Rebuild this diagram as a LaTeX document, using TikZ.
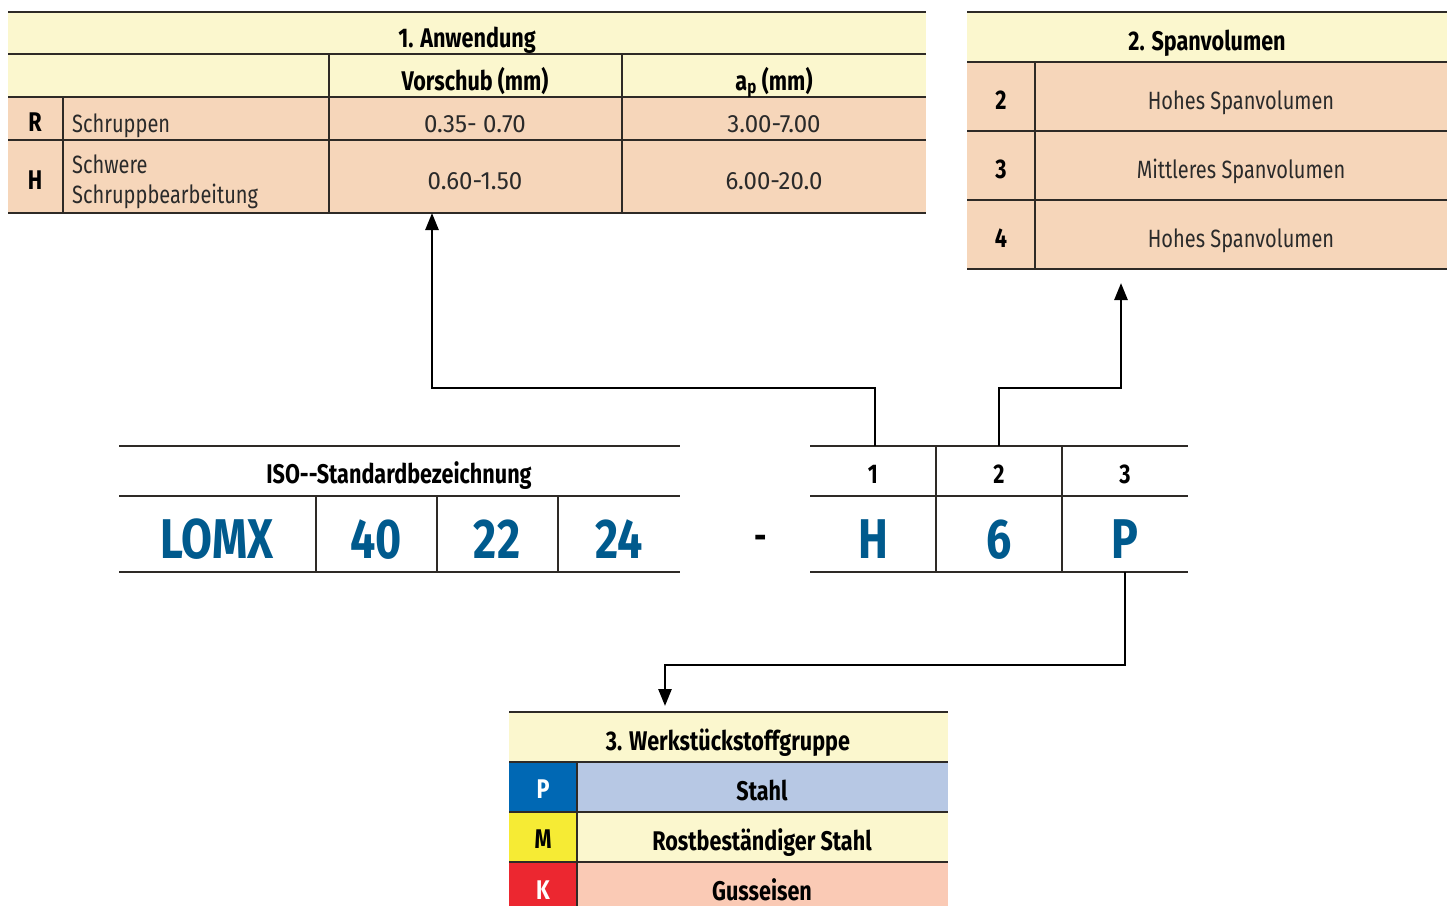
\documentclass[tikz,border=0pt]{standalone}
\usepackage{fontspec}
\setmainfont{Fira Sans}[FakeStretch=0.8]
\newfontfamily\numfont{Fira Sans}[FakeStretch=0.96]
\usetikzlibrary{arrows.meta}
\definecolor{hdr}{HTML}{FBF7CE}
\definecolor{peach}{HTML}{F6D6BA}
\definecolor{lnc}{HTML}{2E2A26}
\definecolor{txtc}{HTML}{2A2A2A}
\definecolor{bluetxt}{HTML}{005A8D}
\definecolor{pblue}{HTML}{0068B4}
\definecolor{pbg}{HTML}{B7C8E4}
\definecolor{myel}{HTML}{F6EB34}
\definecolor{kred}{HTML}{EC2730}
\definecolor{kbg}{HTML}{FACAB5}
\tikzset{
  tl/.style={line width=1.4pt, draw=lnc},
  reg/.style={anchor=base, inner sep=0pt, text=txtc, font=\fontsize{25}{29}\selectfont},
  num/.style={anchor=base, inner sep=0pt, text=txtc, font=\numfont\fontsize{25}{29}\selectfont},
  regw/.style={anchor=base west, inner sep=0pt, text=txtc, font=\fontsize{25}{29}\selectfont},
  bld/.style={anchor=base, inner sep=0pt, text=black, font=\fontsize{27}{31}\selectfont\bfseries},
  big/.style={anchor=base, inner sep=0pt, text=bluetxt, font=\fontsize{56}{62}\selectfont\bfseries},
  cellbox/.style={inner sep=0pt, minimum width=126pt, minimum height=50pt},
  valbox/.style={inner sep=0pt, minimum width=126pt, minimum height=76pt},
  conn/.style={line width=2.6pt, draw=black, -{Triangle[width=13pt,length=17pt]}}
}
\begin{document}
\begin{tikzpicture}[x=1pt,y=-1pt]
\useasboundingbox (0,0) rectangle (1454,906);
% ---------- Table 1 ----------
\fill[hdr] (8,12) rectangle (926,97);
\fill[peach] (8,97) rectangle (926,213);
\foreach \yy in {12,54,97,140,213} \draw[tl] (8,\yy) -- (926,\yy);
\draw[tl] (63,97) -- (63,213);
\draw[tl] (329,54) -- (329,213);
\draw[tl] (622,54) -- (622,213);
\node[bld] (t1title) at (467,47) {1. Anwendung};
\node[bld] (t1vor) at (475,90) {Vorschub (mm)};
\node[bld] (t1ap) at (774,90) {a\textsubscript{p} (mm)};
\node[bld] (t1r) at (35,131) {R};
\node[regw] (t1rd) at (72,132) {Schruppen};
\node[num] (t1rv) at (475,132) {0.35- 0.70};
\node[num] (t1ra) at (774,132) {3.00-7.00};
\node[bld] (t1h) at (35,189) {H};
\node[regw] (t1hd1) at (72,173) {Schwere};
\node[regw] (t1hd2) at (72,203) {Schruppbearbeitung};
\node[num] (t1hv) at (475,189) {0.60-1.50};
\node[num] (t1ha) at (774,189) {6.00-20.0};
\coordinate (t1in) at (432,213);
% ---------- Table 2 ----------
\fill[hdr] (967,12) rectangle (1447,62);
\fill[peach] (967,62) rectangle (1447,269);
\foreach \yy in {12,62,131,200,269} \draw[tl] (967,\yy) -- (1447,\yy);
\draw[tl] (1035,62) -- (1035,269);
\node[bld] (t2title) at (1207,50) {2. Spanvolumen};
\node[bld] (t2a) at (1001,109) {2};
\node[reg] (t2ad) at (1241,109) {Hohes Spanvolumen};
\node[bld] (t2b) at (1001,178) {3};
\node[reg] (t2bd) at (1241,178) {Mittleres Spanvolumen};
\node[bld] (t2c) at (1001,247) {4};
\node[reg] (t2cd) at (1241,247) {Hohes Spanvolumen};
\coordinate (t2in) at (1121,283);
% ---------- ISO designation ----------
\foreach \yy in {446,496,572} \draw[tl] (119,\yy) -- (680,\yy);
\foreach \xx in {316,437,558} \draw[tl] (\xx,496) -- (\xx,572);
\node[bld] (isotitle) at (399,483) {ISO-{}-Standardbezeichnung};
\node[big] (lomx) at (217,558) {LOMX};
\node[big] (n40) at (376,558) {40};
\node[big] (n22) at (497,558) {22};
\node[big] (n24) at (619,558) {24};
\node[anchor=base, inner sep=0pt, font=\fontsize{38}{42}\selectfont\bfseries] (dash) at (761,549) {-};
% ---------- Code table ----------
\foreach \yy in {446,496,572} \draw[tl] (810,\yy) -- (1188,\yy);
\foreach \xx in {936,1062} \draw[tl] (\xx,446) -- (\xx,572);
\node[cellbox] (c1) at (875,471) {};
\node[cellbox] (c2) at (999,471) {};
\node[cellbox] (c3) at (1125,471) {};
\node[valbox] (v3) at (1125,534) {};
\node[bld] (l1) at (873,483) {1};
\node[bld] (l2) at (999,483) {2};
\node[bld] (l3) at (1125,483) {3};
\node[big] (vH) at (873,558) {H};
\node[big] (v6) at (999,558) {6};
\node[big] (vP) at (1125,558) {P};
% ---------- Table 3 ----------
\fill[hdr] (509,712) rectangle (948,762);
\fill[pblue] (509,762) rectangle (577,812);
\fill[pbg] (577,762) rectangle (948,812);
\fill[myel] (509,812) rectangle (577,862);
\fill[hdr] (577,812) rectangle (948,862);
\fill[kred] (509,862) rectangle (577,906);
\fill[kbg] (577,862) rectangle (948,906);
\foreach \yy in {712,762,812,862} \draw[tl] (509,\yy) -- (948,\yy);
\draw[tl] (577,762) -- (577,906);
\node[bld] (t3title) at (728,750) {3. Werkstückstoffgruppe};
\node[bld, text=white] (t3p) at (543,798) {P};
\node[bld] (t3pd) at (762,800) {Stahl};
\node[bld] (t3m) at (543,848) {M};
\node[bld] (t3md) at (762,850) {Rostbeständiger Stahl};
\node[bld, text=white] (t3k) at (543,899) {K};
\node[bld] (t3kd) at (762,900) {Gusseisen};
\coordinate (t3in) at (665,706);
% ---------- Connectors ----------
\coordinate (k1) at (432,388);
\coordinate (k2) at (1121,388);
\coordinate (k3) at (665,665);
\draw[conn] (c1.north) |- (k1) -- (t1in);
\draw[conn] (c2.north) |- (k2) -- (t2in);
\draw[conn] (v3.south) |- (k3) -- (t3in);
\end{tikzpicture}
\end{document}
